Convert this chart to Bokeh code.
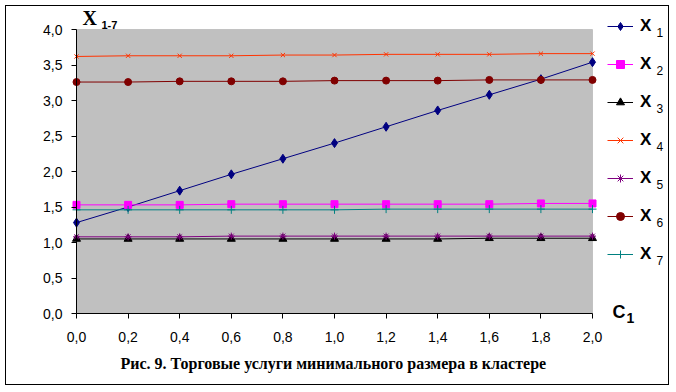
from bokeh.plotting import figure
from bokeh.models import (Range1d, FixedTicker, Legend, LegendItem, Label,
                          CustomJSTickFormatter, BoxAnnotation)
from bokeh.embed import file_html
from bokeh.resources import INLINE

# ---- data ----
c1 = [0.0, 0.2, 0.4, 0.6, 0.8, 1.0, 1.2, 1.4, 1.6, 1.8, 2.0]
x1 = [1.28, 1.50, 1.73, 1.96, 2.18, 2.40, 2.63, 2.86, 3.08, 3.30, 3.54]
x2 = [1.53, 1.53, 1.53, 1.54, 1.54, 1.54, 1.54, 1.54, 1.54, 1.55, 1.55]
x3 = [1.05, 1.05, 1.05, 1.05, 1.05, 1.05, 1.05, 1.05, 1.06, 1.06, 1.06]
x4 = [3.62, 3.63, 3.63, 3.63, 3.64, 3.64, 3.65, 3.65, 3.65, 3.66, 3.66]
x5 = [1.08, 1.08, 1.08, 1.09, 1.09, 1.09, 1.09, 1.09, 1.09, 1.09, 1.09]
x6 = [3.26, 3.26, 3.27, 3.27, 3.27, 3.28, 3.28, 3.28, 3.29, 3.29, 3.29]
x7 = [1.46, 1.46, 1.46, 1.46, 1.46, 1.46, 1.47, 1.47, 1.47, 1.47, 1.47]

series_names = ["1", "2", "3", "4", "5", "6", "7"]
y_ticks = [0.0, 0.5, 1.0, 1.5, 2.0, 2.5, 3.0, 3.5, 4.0]
x_ticks = c1
x_min, x_max = 0.0, 2.0
y_min, y_max = 0.0, 4.0
caption = "Рис. 9. Торговые услуги минимального размера в кластере"

styles = [
    ("#000080", "diamond", 9),
    ("#FF00FF", "square", 7),
    ("#000000", "triangle", 8),
    ("#FF3300", "x", 6),
    ("#800080", "asterisk", 7),
    ("#800000", "circle", 7),
    ("#008080", "cross", 8),
]
series = [x1, x2, x3, x4, x5, x6, x7]

# ---- layout (pixels) ----
W, H = 664, 380          # canvas inside the 1px chart border; the frame covers all of it
PX_X = 258.0             # px per unit on x (plot area 516 px for 0..2)
PX_Y = 71.0              # px per unit on y (plot area 284 px for 0..4)
LEFT_PAD = 70            # px from canvas left to x=0
TOP_PAD = 23             # px from canvas top to y=4
x_start = x_min - LEFT_PAD / PX_X
x_end = x_start + W / PX_X
y_top = y_max + TOP_PAD / PX_Y
y_bot = y_top - H / PX_Y

p = figure(width=W, height=H, output_backend="svg", toolbar_location=None,
           x_range=Range1d(x_start, x_end), y_range=Range1d(y_bot, y_top),
           min_border_left=0, min_border_right=0, min_border_top=0, min_border_bottom=0)
p.styles = {"border": "1px solid black", "margin": "5px 0px 0px 5px"}
p.background_fill_color = "white"
p.border_fill_color = "white"
p.outline_line_color = None
p.xgrid.visible = False
p.ygrid.visible = False

# grey plot area
p.add_layout(BoxAnnotation(left=x_min, right=x_max, bottom=y_min, top=y_max,
                           fill_color="#C0C0C0", fill_alpha=1.0,
                           line_color="#808080", line_width=1, level="underlay"))

fmt = CustomJSTickFormatter(code="return tick.toFixed(1).replace('.', ',');")
for ax, ticks, bnds in ((p.yaxis, y_ticks, (y_min, y_max)), (p.xaxis, x_ticks, (x_min, x_max))):
    ax.ticker = FixedTicker(ticks=ticks)
    ax.formatter = fmt
    ax.bounds = bnds
    ax.minor_tick_line_color = None
    ax.major_tick_in = 0
    ax.major_tick_out = 5
    ax.axis_line_color = "black"
    ax.major_tick_line_color = "black"
    ax.major_label_text_font = "Liberation Sans"
    ax.major_label_text_font_size = "14px"
    ax.major_label_text_color = "black"
p.xaxis.fixed_location = y_min
p.yaxis.fixed_location = x_min
p.yaxis.major_label_standoff = 9
p.xaxis.major_label_standoff = 13

items = []
for (col, mk, sz), ys, nm in zip(styles, series, series_names):
    rl = p.line(c1, ys, line_color=col, line_width=1)
    rm = p.scatter(c1, ys, marker=mk, size=sz, line_color=col, fill_color=col, line_width=1)
    items.append(LegendItem(label="X", renderers=[rl, rm]))

leg = Legend(items=items, location=(601, 122), glyph_width=26, glyph_height=20,
             label_height=20, spacing=18, padding=0, margin=0, label_standoff=7,
             label_text_font="Liberation Sans", label_text_font_size="17px",
             label_text_font_style="bold", label_text_color="black",
             border_line_color=None, background_fill_alpha=0)
p.add_layout(leg)

def lab(x, y, text, size, bold=True, font="Liberation Sans"):
    # x: left edge, y: vertical middle; screen px from the frame's bottom-left corner
    p.add_layout(Label(x=x, y=y, x_units="screen", y_units="screen", text=text,
                       text_font=font, text_font_size=size,
                       text_font_style="bold" if bold else "normal",
                       text_color="black", text_baseline="middle", text_align="left"))

# legend subscripts
for i, nm in enumerate(series_names):
    lab(650, 354 - 38 * i, nm, "12px", bold=False)

# axis titles
lab(76, 368.5, "X", "20px", font="Liberation Serif")
lab(95, 361.5, "1-7", "11px")
lab(606, 74.5, "C", "18px")
lab(620, 68.5, "1", "14px")

# caption
lab(114, 22.7, caption, "16px", font="Liberation Serif")

open("out.html", "w").write(file_html(p, INLINE))
